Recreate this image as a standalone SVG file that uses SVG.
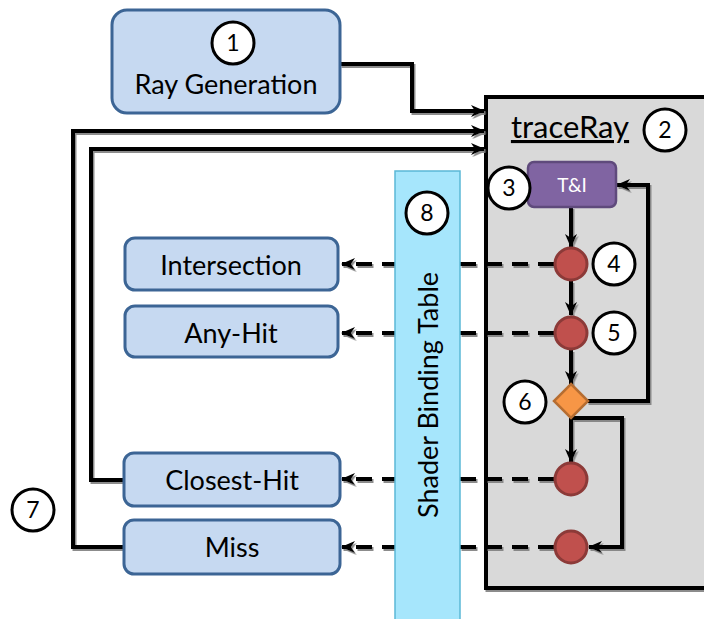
<svg xmlns="http://www.w3.org/2000/svg" width="704" height="619" viewBox="0 0 704 619">
<defs>
<filter id="sh" x="-10%" y="-10%" width="120%" height="120%">
<feDropShadow dx="1.5" dy="2" stdDeviation="0.6" flood-color="#7f7f7f" flood-opacity="0.9"/>
</filter>
<marker id="ah" markerUnits="userSpaceOnUse" markerWidth="14" markerHeight="12" refX="13" refY="6" orient="auto">
<path d="M0,0 L14,6 L0,12 L4,6 Z" fill="#000"/>
</marker>
<style>
.box{fill:#c6d9f1;stroke:#3c6595;stroke-width:3}
.lbl{font-family:Lato,"Liberation Sans",sans-serif;font-size:27px;fill:#000;text-anchor:middle}
.num{fill:#fff;stroke:#000;stroke-width:3}
.numt{font-family:Lato,"Liberation Sans",sans-serif;font-size:23px;fill:#000;text-anchor:middle}
.red{fill:#c0504d;stroke:#8c3a38;stroke-width:3}
.ln{fill:none;stroke:#000;stroke-width:4}
.dash{fill:none;stroke:#000;stroke-width:4;stroke-dasharray:16 10}
</style>
</defs>
<rect width="704" height="619" fill="#fff"/>

<g id="traceRay">
<rect x="486" y="97" width="230" height="491" fill="#d9d9d9" stroke="#000" stroke-width="4" filter="url(#sh)"/>
<text x="570" y="138" font-family="Lato,'Liberation Sans',sans-serif" font-size="31" text-anchor="middle" text-decoration="underline">traceRay</text>
</g>

<g id="connectors" filter="url(#sh)">
<path class="ln" d="M340,64 H412 V111 H484" marker-end="url(#ah)"/>
<path class="ln" d="M124,547 H73 V131 H484" marker-end="url(#ah)"/>
<path class="ln" d="M124,480 H91 V149 H484" marker-end="url(#ah)"/>
<path class="ln" d="M571,207 V247" marker-end="url(#ah)"/>
<path class="ln" d="M571,281 V315" marker-end="url(#ah)"/>
<path class="ln" d="M571,350 V384" marker-end="url(#ah)"/>
<path class="ln" d="M587,401 H648 V185 H617" marker-end="url(#ah)"/>
<path class="ln" d="M571,418 V462" marker-end="url(#ah)"/>
<path class="ln" d="M571,418 H622 V547 H589" marker-end="url(#ah)"/>
<path class="dash" d="M554,264 H342" marker-end="url(#ah)"/>
<path class="dash" d="M554,333 H342" marker-end="url(#ah)"/>
<path class="dash" d="M554,479 H342" marker-end="url(#ah)"/>
<path class="dash" d="M554,547 H342" marker-end="url(#ah)"/>
</g>

<g id="sbt">
<rect x="395" y="171" width="65" height="460" fill="#a6e6fc" stroke="#5bb8d6" stroke-width="1.5"/>
<text transform="translate(438,395) rotate(-90)" class="lbl">Shader Binding Table</text>
</g>

<g id="rayGen">
<rect class="box" x="112" y="10" width="228" height="103" rx="15"/>
<circle class="num" cx="233" cy="43" r="21"/>
<text class="numt" x="233" y="51">1</text>
<text class="lbl" x="226" y="94">Ray Generation</text>
</g>

<g id="intersection">
<rect class="box" x="125" y="238" width="213" height="52" rx="10"/>
<text class="lbl" x="231" y="275">Intersection</text>
</g>
<g id="anyHit">
<rect class="box" x="125" y="306" width="213" height="51" rx="10"/>
<text class="lbl" x="231" y="343">Any-Hit</text>
</g>
<g id="closestHit">
<rect class="box" x="124" y="453" width="216" height="53" rx="10"/>
<text class="lbl" x="232" y="490">Closest-Hit</text>
</g>
<g id="miss">
<rect class="box" x="124" y="520" width="216" height="54" rx="10"/>
<text class="lbl" x="232" y="557">Miss</text>
</g>

<g id="ti">
<rect x="528" y="162" width="88" height="45" rx="6" fill="#8064a2" stroke="#5f4a7c" stroke-width="2.5"/>
<text x="572" y="192" font-family="Lato,'Liberation Sans',sans-serif" font-size="19" fill="#fff" text-anchor="middle">T&amp;I</text>
</g>

<g id="n4"><circle class="red" cx="571" cy="264" r="16"/></g>
<g id="n5"><circle class="red" cx="571" cy="333" r="16"/></g>
<g id="decision"><path d="M571,384 L588,401 L571,418 L554,401 Z" fill="#f79646" stroke="#b66d31" stroke-width="2.5"/></g>
<g id="nCH"><circle class="red" cx="571" cy="479" r="16"/></g>
<g id="nMiss"><circle class="red" cx="571" cy="547" r="16"/></g>

<g id="label2"><circle class="num" cx="665" cy="130" r="21"/><text class="numt" x="665" y="138">2</text></g>
<g id="label3"><circle class="num" cx="509" cy="188" r="21"/><text class="numt" x="509" y="196">3</text></g>
<g id="label4"><circle class="num" cx="614" cy="264" r="21"/><text class="numt" x="614" y="272">4</text></g>
<g id="label5"><circle class="num" cx="614" cy="333" r="21"/><text class="numt" x="614" y="341">5</text></g>
<g id="label6"><circle class="num" cx="525" cy="402" r="21"/><text class="numt" x="525" y="410">6</text></g>
<g id="label7"><circle class="num" cx="33" cy="510" r="21"/><text class="numt" x="33" y="518">7</text></g>
<g id="label8"><circle class="num" cx="427" cy="213" r="21"/><text class="numt" x="427" y="221">8</text></g>
</svg>
